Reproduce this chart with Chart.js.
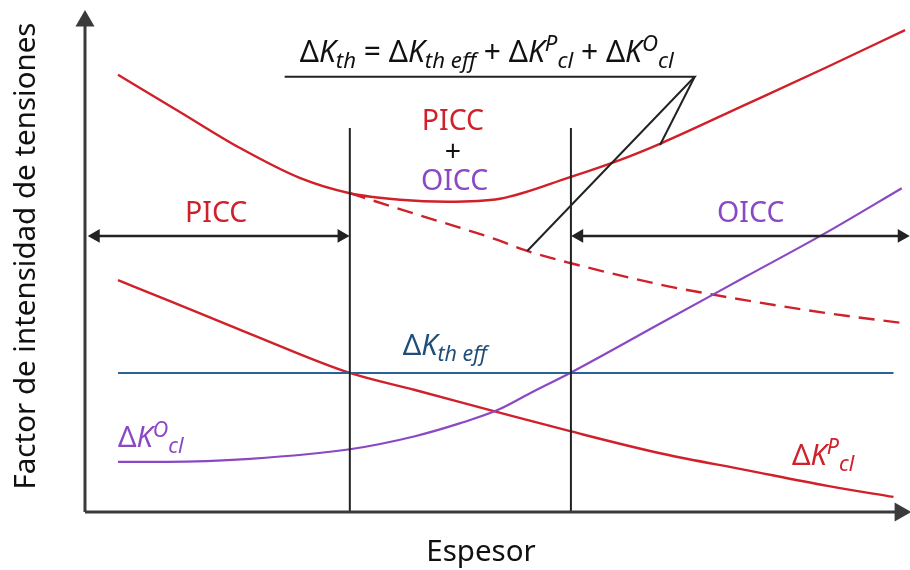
<!DOCTYPE html>
<html>
<head>
<meta charset="utf-8">
<script src="https://cdn.jsdelivr.net/npm/chart.js@4.4.0/dist/chart.umd.min.js"></script>
<style>
  html, body { margin: 0; padding: 0; background: #fff; }
  canvas { display: block; }
</style>
</head>
<body>
<canvas id="chart" width="910" height="570"></canvas>
<script>
// schematic units: espesor 0..100, factor K 0..100
const X_AXIS = [[0, 0], [98.8, 0]];
const Y_AXIS = [[0, 0], [0, 97.8]];

const espesorP = [4, 10, 20, 32.1, 40, 50, 58.8, 70, 80, 90, 98];
const kclP     = [46.2, 42.2, 35.5, 27.7, 24.3, 19.9, 16.1, 11.6, 8.4, 5.2, 3.0];

const espesorO = [4, 10, 20, 32.1, 40, 45.5, 50, 54, 58.8, 70, 80, 90, 99];
const kclO     = [10.0, 10.0, 10.6, 12.5, 15.1, 17.7, 20.3, 23.7, 27.7, 37.8, 46.8, 55.8, 64.5];

const espesorEff = [4, 98];
const kthEff     = [27.7, 27.7];

const espesorTh = [4, 11.5, 18.8, 26.1, 32.1, 38.2, 43.9, 50.3, 58.8, 64.8, 69.9, 80, 89.9, 99.4];
const kth       = [87.1, 79.7, 72.5, 66.5, 63.5, 62.2, 61.8, 62.4, 66.7, 70.1, 73.5, 81.1, 88.6, 96.0];

const espesorDash = [32.1, 40, 50, 53.6, 58.8, 70, 75.8, 80, 90, 99.3];
const kthDash     = [63.5, 59.4, 54.2, 52.0, 49.6, 45.2, 43.4, 42.2, 39.6, 37.6];

const LIMITS = [32.1, 58.9];      // PICC | PICC+OICC | OICC
const LIMIT_TOP = 76.5;
const ARROW_Y = 55.0;
const PICC_ARROW = [1.3, 31.1];
const OICC_ARROW = [59.9, 99.0];
const POINTER_A = [[24.2, 86.7], [73.9, 86.7], [53.6, 52.0]];
const POINTER_B = [[73.9, 86.7], [69.7, 73.1]];

const RED = '#d0202a', PURPLE = '#8a48c4', BLUE = '#2a6496', INK = '#222';

const pts = (xs, ys) => xs.map((v, i) => ({x: v, y: ys[i]}));
const pairs = arr => arr.map(p => ({x: p[0], y: p[1]}));

function line(data, color, width, extra) {
  return Object.assign({
    data: data, borderColor: color, backgroundColor: color, borderWidth: width,
    pointRadius: 0, fill: false, clip: false, cubicInterpolationMode: 'monotone'
  }, extra || {});
}

function straight(data, color, width) {
  return line(data, color, width, {cubicInterpolationMode: 'default', tension: 0});
}

function arrowLine(data, color, width, radius, rotations) {
  return line(data, color, width, {
    cubicInterpolationMode: 'default', tension: 0,
    pointRadius: ctx => rotations[ctx.dataIndex] === null ? 0 : radius,
    pointRotation: ctx => rotations[ctx.dataIndex] || 0,
    pointStyle: 'triangle', pointBorderWidth: 0
  });
}

const datasets = [
  arrowLine(pairs(X_AXIS), '#3a3a3a', 3, 11, [null, 90]),
  arrowLine(pairs(Y_AXIS), '#3a3a3a', 3, 11, [null, 0]),
  straight(pts([LIMITS[0], LIMITS[0]], [0, LIMIT_TOP]), INK, 2),
  straight(pts([LIMITS[1], LIMITS[1]], [0, LIMIT_TOP]), INK, 2),
  arrowLine(pts(PICC_ARROW, [ARROW_Y, ARROW_Y]), INK, 2.5, 8, [270, 90]),
  arrowLine(pts(OICC_ARROW, [ARROW_Y, ARROW_Y]), INK, 2.5, 8, [270, 90]),
  straight(pairs(POINTER_A), INK, 2),
  straight(pairs(POINTER_B), INK, 2),
  straight(pts(espesorEff, kthEff), BLUE, 2),
  line(pts(espesorO, kclO), PURPLE, 2.2),
  line(pts(espesorP, kclP), RED, 2.4),
  line(pts(espesorDash, kthDash), RED, 2.4, {borderDash: [16, 9]}),
  line(pts(espesorTh, kth), RED, 2.4)
];

const FONT = '"Noto Sans", "Open Sans", sans-serif';

function rich(ctx, parts, px, py, size, color, align) {
  const small = size * 0.74;
  const fontOf = k => (k === 'n' ? '' : 'italic ') + (k === 'b' || k === 'p' ? small : size) + 'px ' + FONT;
  const widths = parts.map(([t, k]) => { ctx.font = fontOf(k); return ctx.measureText(t).width; });
  const total = widths.reduce((a, b) => a + b, 0);
  let cx = align === 'center' ? px - total / 2 : px;
  ctx.fillStyle = color;
  ctx.textAlign = 'left';
  ctx.textBaseline = 'alphabetic';
  parts.forEach(([t, k], i) => {
    ctx.font = fontOf(k);
    const dy = k === 'b' ? size * 0.2 : k === 'p' ? -size * 0.36 : 0;
    ctx.fillText(t, cx, py + dy);
    cx += widths[i];
  });
}

function plain(ctx, text, px, py, size, color) {
  ctx.font = size + 'px ' + FONT;
  ctx.fillStyle = color;
  ctx.textAlign = 'center';
  ctx.textBaseline = 'alphabetic';
  ctx.fillText(text, px, py);
}

const labelsPlugin = {
  id: 'labels',
  afterDatasetsDraw(chart) {
    const {ctx, scales: {x, y}} = chart;
    const X = v => x.getPixelForValue(v), Y = v => y.getPixelForValue(v);
    ctx.save();

    rich(ctx, [['Δ', 'n'], ['K', 'i'], ['th', 'b'], [' = Δ', 'n'], ['K', 'i'], ['th eff', 'b'],
               [' + Δ', 'n'], ['K', 'i'], ['P', 'p'], ['cl', 'b'], [' + Δ', 'n'], ['K', 'i'], ['O', 'p'], ['cl', 'b']],
         X(48.7), Y(89.6), 30, '#111', 'center');

    plain(ctx, 'PICC', X(15.9), Y(57.8), 28.5, RED);
    plain(ctx, 'OICC', X(80.7), Y(57.8), 28.5, PURPLE);
    plain(ctx, 'PICC', X(44.6), Y(76.1), 28.5, RED);
    plain(ctx, '+', X(44.6), Y(70.0), 28.5, '#111');
    plain(ctx, 'OICC', X(44.8), Y(64.1), 28.5, PURPLE);

    rich(ctx, [['Δ', 'n'], ['K', 'i'], ['th eff', 'b']], X(38.5), Y(31.3), 29, '#1f4e79', 'left');
    rich(ctx, [['Δ', 'n'], ['K', 'i'], ['O', 'p'], ['cl', 'b']], X(4.0), Y(12.9), 29, PURPLE, 'left');
    rich(ctx, [['Δ', 'n'], ['K', 'i'], ['P', 'p'], ['cl', 'b']], X(85.7), Y(9.4), 29, RED, 'left');

    // axis titles
    ctx.font = '29.5px ' + FONT;
    ctx.fillStyle = '#111';
    ctx.textAlign = 'center';
    ctx.textBaseline = 'middle';
    ctx.fillText('Espesor', 481, 553);
    ctx.translate(27, 256);
    ctx.rotate(-Math.PI / 2);
    ctx.fillText('Factor de intensidad de tensiones', 0, 0);
    ctx.restore();
  }
};

new Chart(document.getElementById('chart'), {
  type: 'line',
  data: { datasets: datasets },
  options: {
    responsive: false,
    animation: false,
    events: [],
    layout: { autoPadding: false, padding: { left: 85, right: 0, top: 10, bottom: 58 } },
    scales: {
      x: { type: 'linear', min: 0, max: 100, display: false },
      y: { type: 'linear', min: 0, max: 100, display: false }
    },
    plugins: { legend: { display: false }, tooltip: { enabled: false } }
  },
  plugins: [labelsPlugin]
});
</script>
</body>
</html>
